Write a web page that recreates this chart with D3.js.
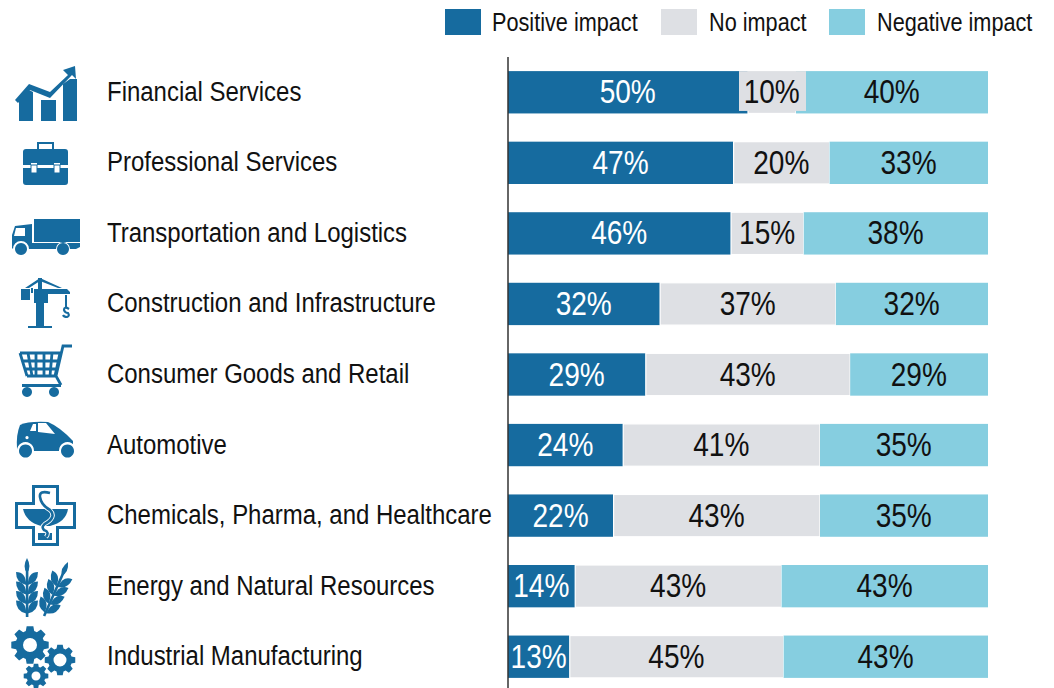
<!DOCTYPE html>
<html><head><meta charset="utf-8">
<script src="https://cdn.jsdelivr.net/npm/d3@7"></script>
<style>html,body{margin:0;padding:0;background:#fff}svg{display:block}text{font-family:"Liberation Sans",Arial,sans-serif}</style>
</head><body><svg id="c" width="1054" height="688"></svg>
<script>
const categories=["Financial Services","Professional Services","Transportation and Logistics","Construction and Infrastructure","Consumer Goods and Retail","Automotive","Chemicals, Pharma, and Healthcare","Energy and Natural Resources","Industrial Manufacturing"];
const positive=[50,47,46,32,29,24,22,14,13];
const noImpact=[10,20,15,37,43,41,43,43,45];
const negative=[40,33,38,32,29,35,35,43,43];
const seriesNames=["Positive impact","No impact","Negative impact"];
const colors=["#166b9f","#dee0e4","#86cee0"];
const textColors=["#fff","#111","#111"];
const iconColor="#166b9f";

const svg=d3.select("#c");
const rows=categories.map((c,i)=>({c,"Positive impact":positive[i],"No impact":noImpact[i],"Negative impact":negative[i]}));
const stack=d3.stack().keys(seriesNames).offset(d3.stackOffsetExpand)(rows);
const x=d3.scaleLinear().domain([0,1]).range([508,988]);
const y=d3.scaleBand().domain(categories).range([57,692]).paddingInner(0.4).paddingOuter(0.2);
const SX=0.85;
function label(sel,px,py,t,size,fill,anchor){
  sel.append("text").attr("transform",`translate(${px},${py}) scale(${SX},1)`)
   .attr("text-anchor",anchor).attr("font-size",size).attr("fill",fill).text(t);
}
// bars
stack.forEach((s,k)=>{
  svg.append("g").selectAll("rect").data(s).join("rect")
   .attr("x",d=>x(d[0])).attr("width",d=>x(d[1])-x(d[0]))
   .attr("y",d=>y(d.data.c)).attr("height",y.bandwidth())
   .attr("fill",colors[k]).attr("stroke","#fff").attr("stroke-width",k==1?1.2:0);
});
// label background for the narrow segment
const nb=stack[1][0], ny=y(nb.data.c);
svg.append("rect").attr("x",(x(nb[0])+x(nb[1]))/2-33).attr("width",67).attr("y",ny).attr("height",y.bandwidth()-2.5).attr("fill",colors[1]);
stack.forEach((s,k)=>s.forEach(d=>{
  label(svg,(x(d[0])+x(d[1]))/2-0.3,y(d.data.c)+y.bandwidth()/2+11,d.data[seriesNames[k]]+"%",33,textColors[k],"middle");
}));
// categories
categories.forEach(c=>label(svg,107,y(c)+y.bandwidth()/2+8.5,c,28.2,"#111","start"));
// axis
svg.append("line").attr("x1",508).attr("x2",508).attr("y1",57).attr("y2",688).attr("stroke","#333").attr("stroke-width",1.5);
// legend
const legendX=[445,661,829], textX=[492,709,877];
seriesNames.forEach((n,i)=>{
  svg.append("rect").attr("x",legendX[i]).attr("y",9).attr("width",36).attr("height",26).attr("fill",colors[i]);
  label(svg,textX[i],30.5,n,25.5,"#111","start");
});
// icons
const ic=svg.append("g").attr("fill",iconColor);
const p=(d,extra={})=>{const e=ic.append("path").attr("d",d);for(const k in extra)e.attr(k,extra[k]);return e;};
const line=(d,w,col=iconColor)=>ic.append("path").attr("fill","none").attr("stroke",col).attr("stroke-width",w).attr("d",d);
// 1 chart
p("M19 98L29 90L33 92V121H19ZM41 100H56V121H41ZM63 84L70 79H77V121H63Z");
p("M15 100L29 84L50 92L68 75L63 70L75 66L76 79L72 75L50 98L30 90L18 103Z");
// 2 briefcase
p("M26 149H65Q68 149 68 152V165H60V163H54V165H37V163H31V165H23V152Q23 149 26 149ZM23 168H31V173H37V168H54V173H60V168H68V182Q68 185 65 185H26Q23 185 23 182Z");
p("M37 149V142H54V149H52V144H39V149Z");
p("M31 165H37V173H31ZM54 165H60V173H54Z",{fill:"none",stroke:iconColor,"stroke-width":1});
// 3 truck
p("M34 219H80V242H34ZM12 248V235L15 226L32 224V243H80V247L76 249H70A7 7 0 0 0 56 249H29A8 8 0 0 0 13 249Z");
p("M16 228H25V236H14Z",{fill:"#fff"});
p("M21 243a6 6 0 1 0 .01 0ZM63 243a6 6 0 1 0 .01 0Z");
// 4 crane
p("M36 303H44V326H36ZM28 326H52V328H28ZM34 289H48V303H34ZM21 289H30V300H21ZM31 288H33V293H31ZM48 289H67L70 292V294H48Z");
p("M25 288L40 278L62 288H58L40 281L29 288Z");
p("M38 278H42V289H38Z");
p("M65 295H67V307H65Z");
line("M69 309Q64 306 64 310Q65 313 68 313Q70 316 67 317Q64 317 63 315",2.2);
// 5 cart
line("M20 353H61M22 361H60M24 369H57M27 376H55M20 353L27 376M28 353L32 376M36 353V376M44 353V376M52 353L50 376M60 353L55 376",2.8);
line("M72 346H63L56 376L61 385",2.8);
p("M22 384H61V387H22Z");
p("M27 387a5 5 0 1 0 .01 0ZM54 387a5 5 0 1 0 .01 0Z");
// 6 car
p("M17 448Q16 435 20 425Q28 421 48 422Q60 427 73 441V447L62 451H31L18 450Z");
p("M30 431L33 424H36V431ZM38 423H46L55 434L38 432Z",{fill:"#fff"});
p("M27 436a1.6 1.6 0 1 0 .01 0Z",{fill:"#fff"});
p("M25.5 442a8.5 8.5 0 1 0 .01 0ZM67.5 442a8.5 8.5 0 1 0 .01 0Z",{fill:"#fff"});
p("M25.5 444.5a6.5 6.5 0 1 0 .01 0ZM67.5 444.5a6.5 6.5 0 1 0 .01 0Z");
// 7 medical cross
p("M32 485H59V502H76V529H59V546H32V529H15V502H32ZM35 488V505H18V526H35V543H56V526H73V505H56V488Z",{"fill-rule":"evenodd"});
p("M23 509H68Q66 522 50 526H41Q26 522 23 509Z");
p("M38 533H52V540H38Z");
const snake="M50 493Q39 490 40 497Q41 505 50 510Q56 516 48 522Q40 526 44 530Q50 532 46 537";
line(snake,4.5,"#fff");
line(snake,2.6);
// 8 wheat
function stalk(x0,y0,ang,len){
  const g=ic.append("g").attr("transform",`translate(${x0},${y0}) rotate(${ang})`);
  g.append("rect").attr("x",-1.2).attr("y",-len).attr("width",2.6).attr("height",len);
  g.append("path").attr("d",`M0 ${-len-7}Q5 ${-len+2} 0 ${-len+8}Q-5 ${-len+2} 0 ${-len-7}Z`);
  d3.range(4).forEach(i=>{
    const yy=-len+11+i*9.5;
    [1,-1].forEach(s=>g.append("path").attr("d",`M${s*.8} ${yy+9}Q${s*11} ${yy+7} ${s*11} ${yy-4}Q${s*1} ${yy-4} ${s*.8} ${yy+9}Z`));
  });
}
stalk(27,617,0,52);
stalk(44,616,24,52);
// 9 gears
function gear(cx,cy,R,r,hole,n){
  const pts=[];
  d3.range(n).forEach(i=>{
    const a=i/n*2*Math.PI, w=Math.PI/n;
    [[r,-w*.75],[R,-w*.45],[R,w*.45],[r,w*.75]].forEach(([q,o])=>pts.push([cx+q*Math.cos(a+o),cy+q*Math.sin(a+o)]));
  });
  const d="M"+pts.join("L")+"Z"+`M${cx+hole} ${cy}a${hole} ${hole} 0 1 0 ${-2*hole} 0a${hole} ${hole} 0 1 0 ${2*hole} 0Z`;
  p(d,{"fill-rule":"evenodd"});
}
gear(30,645,19,14.5,7,8);
gear(60,660,15.5,12,6.5,8);
gear(36,676,12.5,9.5,4.5,8);
</script></body></html>
